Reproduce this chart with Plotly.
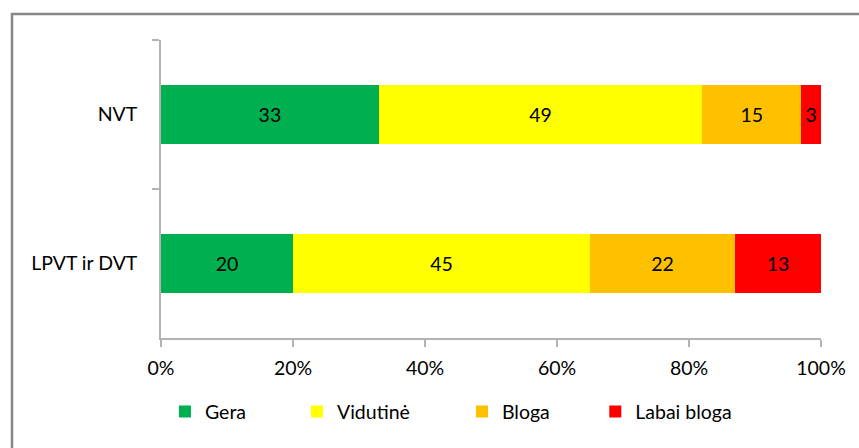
import plotly.graph_objects as go

categories = ["NVT", "LPVT ir DVT"]
series_names = ["Gera", "Vidutinė", "Bloga", "Labai bloga"]
gera = [33, 20]
vidutine = [49, 45]
bloga = [15, 22]
labai_bloga = [3, 13]
colors = ["#00B050", "#FFFF00", "#FFC000", "#FF0000"]
tick_vals = [0, 20, 40, 60, 80, 100]
tick_text = ["0%", "20%", "40%", "60%", "80%", "100%"]

FONT = "Lato"
FS = 19.5
series = [gera, vidutine, bloga, labai_bloga]
legend_ids = ["legend", "legend2", "legend3", "legend4"]
legend_x = [0.006, 0.206, 0.456, 0.658]

fig = go.Figure()
for name, vals, col, lid in zip(series_names, series, colors, legend_ids):
    fig.add_trace(go.Bar(
        y=categories, x=vals, name=name, orientation="h",
        marker=dict(color=col, line=dict(width=0)),
        text=[str(v) for v in vals], textposition="inside",
        insidetextanchor="middle", textangle=0, constraintext="none",
        textfont=dict(family=FONT, size=FS, color="#000000"),
        legend=lid, hoverinfo="skip",
    ))

W, H = 859, 448
ml, mr, mt, mb = 161, 38, 40, 110
pw, ph = W - ml - mr, H - mt - mb

layout_legends = {}
for lid, lx in zip(legend_ids, legend_x):
    layout_legends[lid] = dict(
        x=lx, y=-0.248, xanchor="left", yanchor="middle",
        orientation="h", font=dict(family=FONT, size=FS, color="#000000"),
        bgcolor="rgba(0,0,0,0)", borderwidth=0, itemclick=False,
    )

fig.update_layout(
    width=W, height=H,
    margin=dict(l=ml, r=mr, t=mt, b=mb),
    barmode="stack", bargap=0.6,
    paper_bgcolor="white", plot_bgcolor="white",
    font=dict(family=FONT, size=FS, color="#000000"),
    showlegend=True,
    **layout_legends,
    xaxis=dict(
        range=[0, 100], tickvals=tick_vals, ticktext=tick_text,
        showgrid=False, zeroline=False, showline=True,
        linecolor="#B3B3B3", linewidth=1.5,
        ticks="outside", ticklen=7, tickcolor="#B3B3B3", tickwidth=1.5,
        ticklabelstandoff=5,
        tickfont=dict(family=FONT, size=FS, color="#000000"),
    ),
    yaxis=dict(
        type="category", autorange="reversed",
        showgrid=False, zeroline=False, showline=True,
        linecolor="#B3B3B3", linewidth=1.5,
        ticks="outside", ticklen=7, tickcolor="#B3B3B3", tickwidth=1.5,
        tickson="boundaries", ticklabelstandoff=18,
        tickfont=dict(family=FONT, size=FS, color="#000000"),
    ),
    shapes=[dict(
        type="rect", xref="paper", yref="paper",
        x0=(12 - ml) / pw, x1=(875 - ml) / pw,
        y0=(H - mb - 470) / ph, y1=(H - mb - 14) / ph,
        line=dict(color="#878787", width=2.5), fillcolor="rgba(0,0,0,0)",
        layer="below",
    )],
)

fig.write_html("out.html")
